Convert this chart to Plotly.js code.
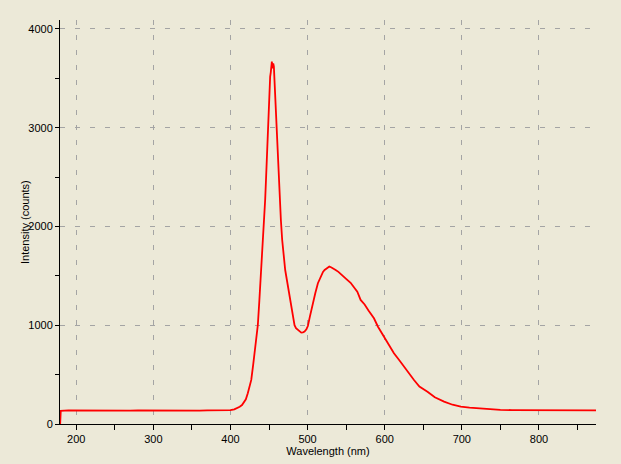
<!DOCTYPE html>
<html>
<head>
<meta charset="utf-8">
<script src="https://cdn.plot.ly/plotly-3.0.1.min.js"></script>
<style>
html,body{margin:0;padding:0;background:#ECE9D8;}
#chart{width:621px;height:464px;}
</style>
</head>
<body>
<div id="chart"></div>
<script>
// Wavelength (nm)
const wavelength = [179.2,180,190,200,210,220,230,240,250,260,270,280,290,300,310,320,330,340,350,360,370,380,390,400,405,409,412,415,418,420,422.5,425,427,429.5,431.6,433.5,435.5,437.5,439.4,441,442.4,444,445,446.3,447.6,448.9,450.2,451.5,452.3,453,453.7,454.5,455.5,456.3,457,458,459.3,461,462.8,464,465.4,467.1,468.4,470,471,473.2,475,476.2,478.4,480.5,483.1,485,487.4,490,491.8,494,496.1,498.5,500.4,503,506.5,510,513.4,517.8,520,522.1,525,528.2,531,534,536.4,540,545,550,555.8,560,564.5,568.8,574,579,584,586.1,591.3,599.1,605,612,618.5,625,631,638,645,655.5,665,677,688,698.7,710,720.4,735,750,765,780,795,810,825,840,855,870,874];
// Intensity (counts)
const intensity = [0,134,137,136,138,135,137,136,138,137,136,138,137,136,138,137,136,138,137,136,138,137,138,140,148,160,175,192,220,250,311,395,446,600,749,880,1000,1250,1509,1700,1846,2100,2268,2511,2792,2994,3298,3517,3560,3640,3670,3600,3650,3620,3500,3300,3028,2808,2555,2251,2066,1863,1745,1620,1559,1458,1370,1323,1205,1087,1000,970,952,935,925,928,935,960,992,1087,1222,1323,1425,1509,1540,1559,1580,1595,1585,1575,1560,1540,1500,1470,1430,1390,1340,1256,1210,1150,1087,1070,985,884,800,716,650,580,510,446,380,327,270,226,195,175,165,159,150,143,141,140,139,140,138,139,138,137,138];

const xTitle = 'Wavelength (nm)';
const yTitle = 'Intensity (counts)';

const font = {family: '"Liberation Sans", Arial, sans-serif', size: 11, color: '#000000'};

const trace = {
  x: wavelength, y: intensity, type: 'scatter', mode: 'lines',
  line: {color: '#FF0000', width: 1.8},
  hoverinfo: 'skip', showlegend: false
};

const layout = {
  width: 621, height: 464,
  margin: {l: 60, r: 25, t: 20, b: 40, pad: 0},
  paper_bgcolor: '#ECE9D8', plot_bgcolor: '#ECE9D8',
  font: font,
  showlegend: false,
  xaxis: {
    range: [179, 874], tick0: 0, dtick: 100,
    showline: true, linecolor: '#000000', linewidth: 1,
    ticks: 'outside', ticklen: 5, tickcolor: '#000000', tickwidth: 1,
    minor: {dtick: 50, ticks: 'outside', ticklen: 5, tickcolor: '#000000', showgrid: false},
    showgrid: true, gridcolor: '#A4A4A4', gridwidth: 1, griddash: '5px,10px',
    zeroline: false, tickfont: font,
    title: {text: xTitle, font: font, standoff: 1}
  },
  yaxis: {
    range: [0, 4090], tick0: 0, dtick: 1000,
    showline: true, linecolor: '#000000', linewidth: 1,
    ticks: 'outside', ticklen: 4, tickcolor: '#000000', tickwidth: 1,
    minor: {dtick: 500, ticks: 'outside', ticklen: 4, tickcolor: '#000000', showgrid: false},
    showgrid: true, gridcolor: '#A4A4A4', gridwidth: 1, griddash: '5px,10px',
    zeroline: false, tickfont: font
  },
  yaxis2: {
    overlaying: 'y', range: [0, 4090], tick0: 0, dtick: 1000,
    showline: false, showgrid: false, zeroline: false, showticklabels: false,
    ticks: 'inside', ticklen: 3, tickcolor: '#000000', tickwidth: 1,
    minor: {dtick: 500, ticks: 'inside', ticklen: 3, tickcolor: '#000000', showgrid: false}
  },
  annotations: [{
    text: yTitle, textangle: -90, font: font, showarrow: false,
    xref: 'paper', yref: 'paper', x: 0, y: 0.5,
    xanchor: 'center', yanchor: 'middle', xshift: -35
  }]
};

Plotly.newPlot('chart', [trace], layout, {staticPlot: true, displayModeBar: false});
</script>
</body>
</html>
